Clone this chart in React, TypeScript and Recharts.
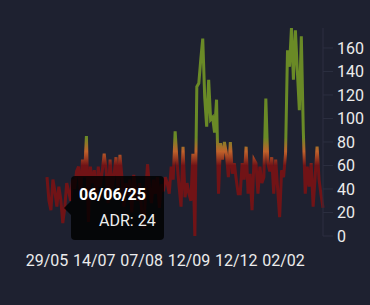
import React from 'react';
import { LineChart, Line, XAxis, YAxis, Tooltip } from 'recharts';

const dates = [
  '29/05/25', '30/05/25', '31/05/25', '01/06/25', '02/06/25', '03/06/25', '04/06/25', '05/06/25', '05/06/25', '06/06/25',
  '08/06/25', '10/06/25', '12/06/25', '14/06/25', '16/06/25', '18/06/25', '20/06/25', '22/06/25', '25/06/25', '28/06/25',
  '01/07/25', '04/07/25', '07/07/25', '10/07/25', '14/07/25', '15/07/25', '16/07/25', '17/07/25', '18/07/25', '19/07/25',
  '20/07/25', '21/07/25', '22/07/25', '23/07/25', '24/07/25', '25/07/25', '26/07/25', '27/07/25', '28/07/25', '29/07/25',
  '30/07/25', '31/07/25', '01/08/25', '02/08/25', '03/08/25', '04/08/25', '05/08/25', '06/08/25', '07/08/25', '08/08/25',
  '10/08/25', '11/08/25', '13/08/25', '14/08/25', '16/08/25', '17/08/25', '19/08/25', '20/08/25', '22/08/25', '23/08/25',
  '25/08/25', '26/08/25', '28/08/25', '29/08/25', '31/08/25', '01/09/25', '03/09/25', '04/09/25', '06/09/25', '07/09/25',
  '09/09/25', '10/09/25', '12/09/25', '16/09/25', '20/09/25', '24/09/25', '28/09/25', '02/10/25', '06/10/25', '10/10/25',
  '14/10/25', '18/10/25', '22/10/25', '26/10/25', '30/10/25', '03/11/25', '07/11/25', '11/11/25', '15/11/25', '19/11/25',
  '23/11/25', '27/11/25', '01/12/25', '04/12/25', '07/12/25', '10/12/25', '12/12/25', '14/12/25', '16/12/25', '18/12/25',
  '20/12/25', '22/12/25', '24/12/25', '27/12/25', '29/12/25', '31/12/25', '02/01/26', '04/01/26', '06/01/26', '08/01/26',
  '10/01/26', '12/01/26', '15/01/26', '17/01/26', '19/01/26', '21/01/26', '23/01/26', '25/01/26', '28/01/26', '30/01/26',
  '02/02/26', '04/02/26', '06/02/26', '08/02/26', '10/02/26', '12/02/26', '14/02/26', '16/02/26', '18/02/26', '20/02/26',
  '22/02/26', '24/02/26', '26/02/26', '28/02/26', '02/03/26', '04/03/26', '06/03/26', '08/03/26', '10/03/26', '12/03/26',
  '14/03/26',
];

const adr = [
  50, 30, 22, 48, 38, 25, 42, 31, 11, 24,
  45, 38, 30, 48, 40, 55, 59, 35, 65, 50,
  85, 12, 59, 45, 56, 30, 59, 42, 55, 70,
  56, 28, 65, 40, 52, 67, 38, 69, 50, 25,
  45, 35, 48, 20, 52, 40, 30, 45, 22, 6,
  35, 61, 42, 28, 48, 36, 50, 24, 44, 38,
  50, 45, 36, 59, 48, 89, 62, 42, 25, 76,
  33, 45, 36, 30, 70, 0, 127, 130, 150, 168,
  118, 93, 133, 99, 101, 88, 116, 36, 79, 65,
  80, 70, 50, 80, 53, 62, 48, 36, 36, 62,
  48, 76, 36, 53, 22, 65, 62, 36, 59, 45,
  50, 117, 62, 55, 67, 36, 65, 40, 16, 56,
  50, 70, 158, 144, 177, 133, 175, 140, 107, 170,
  90, 36, 59, 42, 62, 25, 50, 76, 48, 35,
  24,
];

const yTicks = [0, 20, 40, 60, 80, 100, 120, 140, 160];
const seriesName = 'ADR';
const activeIndex = 9;

const data = dates.map((date, i) => ({ date, adr: adr[i] }));
const maxVal = Math.max(...adr);
const off = (v: number) => `${((maxVal - v) / maxVal) * 100}%`;

const GREEN = '#6a8a26';
const ORANGE = '#c0622b';
const RED = '#711316';
const TIP_BG = 'rgba(0,0,0,0.82)';

const TooltipBox = (props: any) => {
  const { active, payload } = props;
  if (!active || !payload || !payload.length) return null;
  const p = payload[0];
  return (
    <div style={{ position: 'relative', paddingLeft: 7, fontFamily: 'Roboto' }}>
      <div
        style={{
          position: 'absolute',
          left: 0,
          top: 25,
          width: 0,
          height: 0,
          borderTop: '7px solid transparent',
          borderBottom: '7px solid transparent',
          borderRight: `7px solid ${TIP_BG}`,
        }}
      />
      <div
        style={{
          background: TIP_BG,
          borderRadius: 4,
          width: 93,
          height: 64,
          boxSizing: 'border-box',
          padding: '9px 8px',
          color: '#fff',
          whiteSpace: 'nowrap',
        }}
      >
        <div style={{ fontWeight: 700, fontSize: 16, lineHeight: '20px' }}>{p.payload.date}</div>
        <div style={{ fontSize: 16, lineHeight: '20px', marginTop: 6, paddingLeft: 20, color: '#eeeeee' }}>
          {`${seriesName}: ${p.value}`}
        </div>
      </div>
    </div>
  );
};

export default function App() {
  return (
    <div style={{ position: 'fixed', left: 0, top: 0, width: 370, height: 305, background: '#1e2130' }}>
      <LineChart
        width={370}
        height={305}
        data={data}
        margin={{ top: 28, right: 7, bottom: 39, left: 47 }}
        style={{ fontFamily: 'Roboto' }}
      >
        <defs>
          <linearGradient id="adrGrad" x1="0" y1="0" x2="0" y2="1">
            <stop offset="0%" stopColor={GREEN} />
            <stop offset={off(84)} stopColor={GREEN} />
            <stop offset={off(72)} stopColor={ORANGE} />
            <stop offset={off(60)} stopColor={RED} />
            <stop offset="100%" stopColor={RED} />
          </linearGradient>
        </defs>
        <XAxis
          dataKey="date"
          interval={23}
          tickFormatter={(d: string) => d.slice(0, 5)}
          tickLine={false}
          axisLine={false}
          tick={{ fill: '#ececec', fontSize: 16 }}
          tickMargin={13}
          height={30}
        />
        <YAxis
          orientation="right"
          domain={[0, 'dataMax']}
          ticks={yTicks}
          width={40}
          tickSize={10}
          tickMargin={4}
          axisLine={{ stroke: '#2c2f40' }}
          tickLine={{ stroke: '#2c2f40' }}
          tick={{ fill: '#ececec', fontSize: 16 }}
        />
        <Tooltip
          content={TooltipBox}
          defaultIndex={activeIndex}
          active
          position={{ x: 64, y: 176 }}
          cursor={false}
          isAnimationActive={false}
          wrapperStyle={{ outline: 'none' }}
        />
        <Line
          type="linear"
          dataKey="adr"
          stroke="url(#adrGrad)"
          strokeWidth={3}
          dot={false}
          activeDot={false}
          isAnimationActive={false}
        />
      </LineChart>
    </div>
  );
}
